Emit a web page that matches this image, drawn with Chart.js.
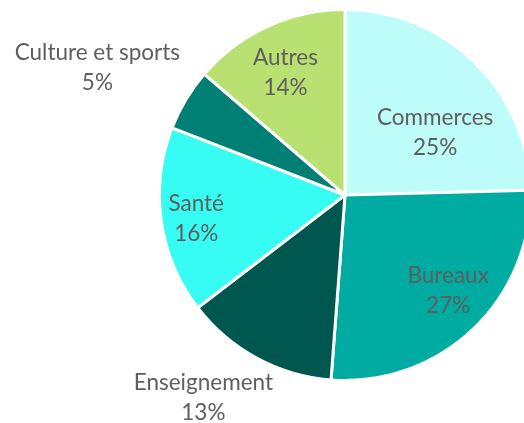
<!DOCTYPE html>
<html>
<head>
<meta charset="utf-8">
<script src="https://cdn.jsdelivr.net/npm/chart.js@4"></script>
<style>
  html, body { margin: 0; padding: 0; background: #fff; overflow: hidden; }
  #wrap { width: 524px; height: 423px; overflow: hidden; position: relative; }
</style>
</head>
<body>
<div id="wrap"><canvas id="chart" width="540" height="423"></canvas></div>
<script>
const categories = ['Commerces', 'Bureaux', 'Enseignement', 'Santé', 'Culture et sports', 'Autres'];
const shares = [24.6, 26.6, 13.4, 16.3, 5.4, 13.7];
const percentLabels = ['25%', '27%', '13%', '16%', '5%', '14%'];
const colors = ['#BDFCF8', '#00ABA2', '#00574F', '#36FCF3', '#007F75', '#B8E172'];

// where each label sits: radius factor along the slice's mid angle + small nudge
const labelPlace = [
  { f: 0.58, dx: 15, dy: 15 },
  { f: 0.76, dx: 6, dy: -6 },
  { f: 1.32, dx: -25, dy: -13 },
  { f: 0.81, dx: 0, dy: 3 },
  { f: 1.50, dx: -9, dy: 16 },
  { f: 0.73, dx: -3, dy: 1 }
];

const sliceLabels = {
  id: 'sliceLabels',
  afterDatasetsDraw(chart) {
    const ctx = chart.ctx;
    const meta = chart.getDatasetMeta(0);
    ctx.save();
    ctx.font = '22.5px Lato';
    ctx.fillStyle = '#5e5e5e';
    ctx.textAlign = 'center';
    ctx.textBaseline = 'middle';
    meta.data.forEach((arc, i) => {
      const p = arc.getProps(['x', 'y', 'startAngle', 'endAngle', 'outerRadius'], true);
      const mid = (p.startAngle + p.endAngle) / 2;
      const r = p.outerRadius * labelPlace[i].f;
      const cx = p.x + Math.cos(mid) * r + labelPlace[i].dx;
      const cy = p.y + Math.sin(mid) * r + labelPlace[i].dy;
      ctx.fillText(categories[i], cx, cy - 15);
      ctx.fillText(percentLabels[i], cx, cy + 15);
    });
    ctx.restore();
  }
};

new Chart(document.getElementById('chart'), {
  type: 'pie',
  data: {
    labels: categories,
    datasets: [{
      data: shares,
      backgroundColor: colors,
      borderColor: '#ffffff',
      borderWidth: 3
    }]
  },
  options: {
    responsive: false,
    animation: false,
    layout: { padding: { left: 158, top: 8, right: 8, bottom: 41 } },
    plugins: {
      legend: { display: false },
      tooltip: { enabled: false }
    }
  },
  plugins: [sliceLabels]
});
</script>
</body>
</html>
